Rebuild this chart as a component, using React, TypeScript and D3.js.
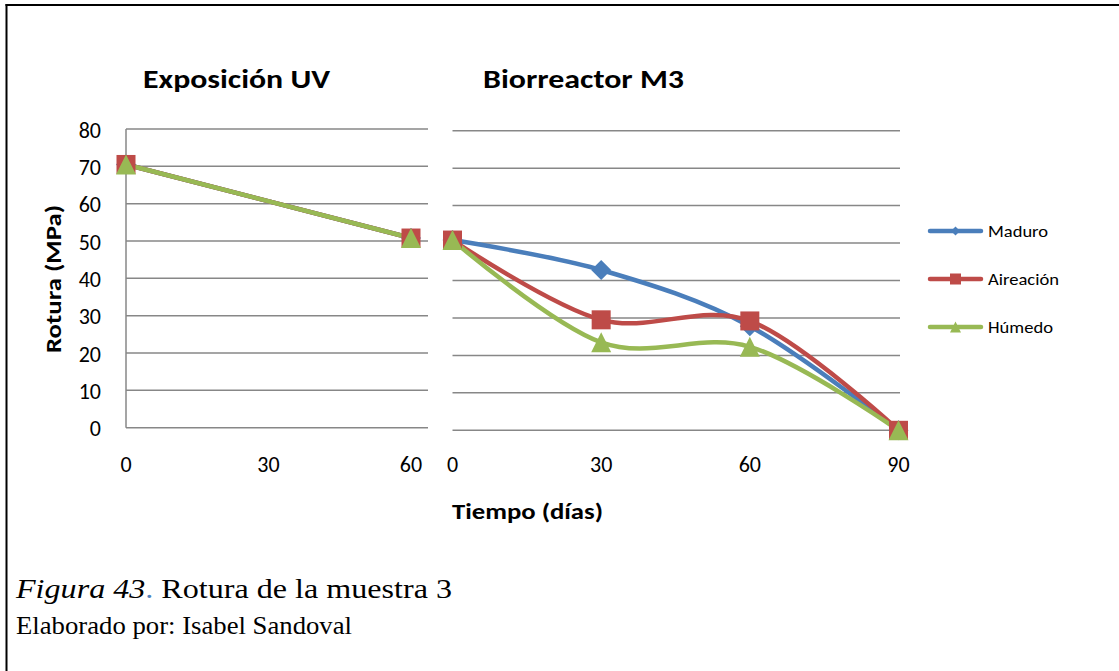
import React from "react";
import * as d3 from "d3";

const seriesNames = ["Maduro", "Aireación", "Húmedo"];
const seriesColors = ["#4A7EBB", "#BE4B48", "#98B954"];
const uvDays = [0, 60];
const uvMaduro = [70.5, 50.8];
const uvAireacion = [70.5, 50.8];
const uvHumedo = [70.5, 50.8];
const bioDays = [0, 30, 60, 90];
const bioMaduro = [50.8, 42.8, 27.8, 0];
const bioAireacion = [50.8, 29.5, 29.2, 0];
const bioHumedo = [50.8, 23.5, 22.3, 0];
const yTicks = [0, 10, 20, 30, 40, 50, 60, 70, 80];
const uvXTicks = [0, 30, 60];
const bioXTicks = [0, 30, 60, 90];
const legendWidths = [60, 71, 65];

const FONT = "Carlito, Lato, 'Liberation Sans', sans-serif";
const SERIF = "'Liberation Serif', 'Times New Roman', serif";

type Shape = "diamond" | "square" | "triangle";
const shapes: Shape[] = ["diamond", "square", "triangle"];

function Marker({ shape, x, y, s, color }: { shape: Shape; x: number; y: number; s: number; color: string }) {
  const h = s / 2;
  if (shape === "square") return <rect x={x - h} y={y - h} width={s} height={s} fill={color} />;
  if (shape === "diamond")
    return <path d={`M${x},${y - h}L${x + h},${y}L${x},${y + h}L${x - h},${y}Z`} fill={color} />;
  return <path d={`M${x},${y - h}L${x + h},${y + h}L${x - h},${y + h}Z`} fill={color} />;
}

function Panel({
  days, data, xMax, x0, x1, gridEnd, yBottom, yTop, xTicks, showAxis, title, titleX, titleW,
}: any) {
  const x = d3.scaleLinear().domain([0, xMax]).range([x0, x1]);
  const y = d3.scaleLinear().domain([0, 80]).range([yBottom, yTop]);
  const line = d3
    .line<number>()
    .x((_, i) => x(days[i]))
    .y((d) => y(d))
    .curve(d3.curveCardinal.tension(0));
  return (
    <g>
      {yTicks.map((t) => (
        <line key={t} x1={x0} x2={gridEnd} y1={y(t)} y2={y(t)} stroke="#878787" strokeWidth={1.5} />
      ))}
      {showAxis && <line x1={x0} x2={x0} y1={y(0)} y2={y(80)} stroke="#878787" strokeWidth={1.5} />}
      {showAxis &&
        yTicks.map((t) => (
          <text key={t} x={101} y={y(t) + 1} textAnchor="end" dominantBaseline="central" fontFamily={FONT} fontSize={22} fill="#000">
            {t}
          </text>
        ))}
      {xTicks.map((t: number) => (
        <text key={t} x={x(t)} y={472} textAnchor="middle" fontFamily={FONT} fontSize={22} fill="#000">
          {t}
        </text>
      ))}
      {data.map((vals: number[], si: number) => (
        <path key={si} d={line(vals) || ""} fill="none" stroke={seriesColors[si]} strokeWidth={4.5} strokeLinejoin="round" strokeLinecap="round" />
      ))}
      {data.map((vals: number[], si: number) =>
        vals.map((v, i) => <Marker key={`${si}-${i}`} shape={shapes[si]} x={x(days[i])} y={y(v)} s={si === 1 ? 19 : 20} color={seriesColors[si]} />)
      )}
      <text x={titleX} y={87.5} textAnchor="middle" fontFamily={FONT} fontWeight="bold" fontSize={26} fill="#000" textLength={titleW} lengthAdjust="spacingAndGlyphs">
        {title}
      </text>
    </g>
  );
}

export default function App() {
  return (
    <svg width={1119} height={671} style={{ position: "absolute", left: 0, top: 0, background: "#fff" }}>
      <rect x={0} y={0} width={1119} height={671} fill="#fff" />
      <line x1={6.5} x2={6.5} y1={4} y2={671} stroke="#000" strokeWidth={2} />
      <line x1={5.5} x2={1119} y1={5} y2={5} stroke="#000" strokeWidth={2} />
      <Panel
        days={uvDays}
        data={[uvMaduro, uvAireacion, uvHumedo]}
        xMax={60}
        x0={126}
        x1={411}
        gridEnd={428}
        yBottom={427.7}
        yTop={129}
        xTicks={uvXTicks}
        showAxis={true}
        title="Exposición UV"
        titleX={236.5}
        titleW={187}
      />
      <Panel
        days={bioDays}
        data={[bioMaduro, bioAireacion, bioHumedo]}
        xMax={90}
        x0={452.5}
        x1={898.5}
        gridEnd={900}
        yBottom={430.3}
        yTop={130.7}
        xTicks={bioXTicks}
        showAxis={false}
        title="Biorreactor M3"
        titleX={583.5}
        titleW={201}
      />
      <text transform="translate(61,279) rotate(-90)" textAnchor="middle" fontFamily={FONT} fontWeight="bold" fontSize={23} fill="#000" textLength={148} lengthAdjust="spacingAndGlyphs">
        Rotura (MPa)
      </text>
      <text x={527.5} y={519} textAnchor="middle" fontFamily={FONT} fontWeight="bold" fontSize={23} fill="#000" textLength={151} lengthAdjust="spacingAndGlyphs">
        Tiempo (días)
      </text>
      {seriesNames.map((n, i) => {
        const ly = 231 + i * 48;
        return (
          <g key={n}>
            <line x1={930} x2={981} y1={ly} y2={ly} stroke={seriesColors[i]} strokeWidth={4.5} strokeLinecap="round" />
            <Marker shape={shapes[i]} x={955.5} y={ly} s={i === 0 ? 9 : 11} color={seriesColors[i]} />
            <text x={988} y={ly} dominantBaseline="central" fontFamily={FONT} fontSize={15.5} fill="#000" textLength={legendWidths[i]} lengthAdjust="spacingAndGlyphs">
              {n}
            </text>
          </g>
        );
      })}
      <text x={16} y={598} fontFamily={SERIF} fontSize={27.5} fill="#000" textLength={436} lengthAdjust="spacingAndGlyphs">
        <tspan fontStyle="italic">Figura 43</tspan>
        <tspan fill="#4F81BD">.</tspan>
        <tspan> Rotura de la muestra 3</tspan>
      </text>
      <text x={16} y={634} fontFamily={SERIF} fontSize={24.5} fill="#000" textLength={336} lengthAdjust="spacingAndGlyphs">
        Elaborado por: Isabel Sandoval
      </text>
    </svg>
  );
}
